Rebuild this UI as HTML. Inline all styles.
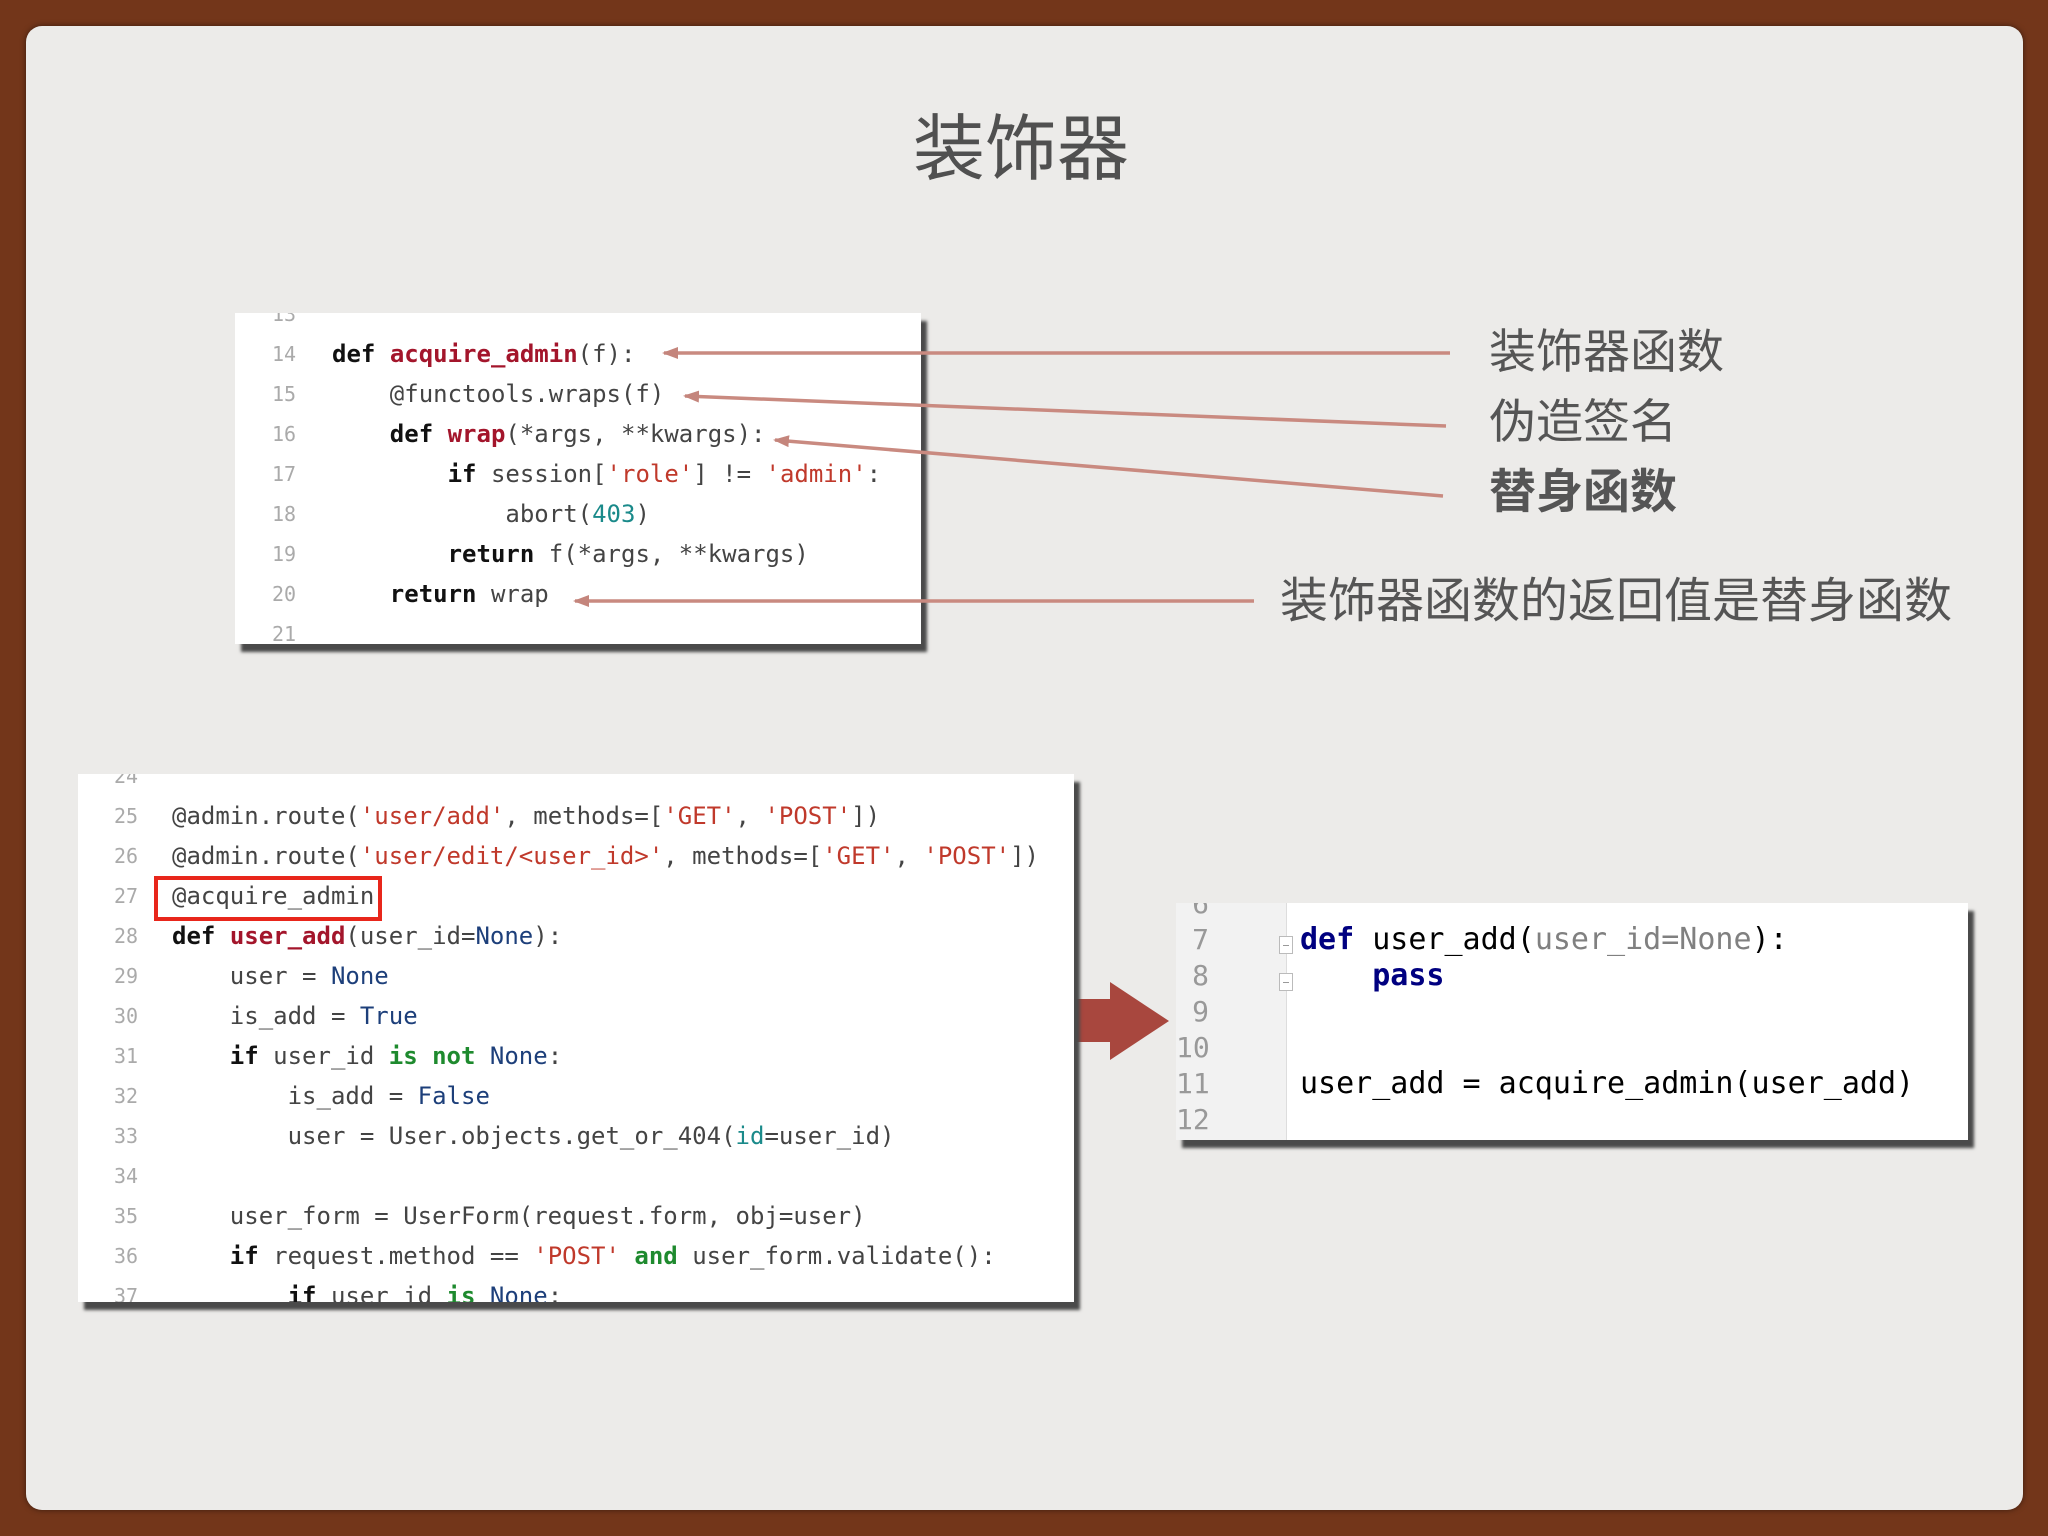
<!DOCTYPE html>
<html><head><meta charset="utf-8">
<style>
*{margin:0;padding:0;box-sizing:border-box}
html,body{width:2048px;height:1536px;overflow:hidden;background:#73361a}
.panel{position:absolute;left:26px;top:26px;width:1997px;height:1484px;background:#ecebe9;border-radius:16px;box-shadow:0 0 6px rgba(0,0,0,.5)}
.t{position:absolute;font-family:"Liberation Sans","Noto Sans CJK SC",sans-serif;color:#555;white-space:nowrap}
.box{position:absolute;background:#fff;box-shadow:6px 8px 3px #4a4a4a;overflow:hidden}
.code{position:absolute;font-family:"DejaVu Sans Mono","Liberation Mono",monospace;white-space:pre;color:#444}
.ln{position:absolute;font-family:"DejaVu Sans Mono","Liberation Mono",monospace;color:#aaa;white-space:pre}
.k{font-weight:bold;color:#111}
.f{color:#a3152b;font-weight:bold}
.s{color:#c0392b}
.n{color:#1a8a8a}
.b{color:#1d3f7a}
.g{color:#1e8a2e;font-weight:bold}
.nv{color:#000080;font-weight:bold}
.gr{color:#808080}
.fold{position:absolute;width:14px;height:18px;border:1px solid #bbb;background:#fff}
.fold:after{content:"";position:absolute;left:3px;top:8px;width:6px;height:1px;background:#999}
</style></head><body>
<div class="panel"></div>
<div class="t" style="left:913px;top:90px;font-size:72px;color:#505050">装饰器</div>

<!-- top box -->
<div class="box" style="left:235px;top:313px;width:686px;height:331px">
  <div class="ln" style="left:37px;top:-19px;font-size:20px;line-height:40px">13
14
15
16
17
18
19
20
21</div>
  <div class="code" style="left:97px;top:21px;font-size:24px;line-height:40px"><span class="k">def</span> <span class="f">acquire_admin</span>(f):
    @functools.wraps(f)
    <span class="k">def</span> <span class="f">wrap</span>(*args, **kwargs):
        <span class="k">if</span> session[<span class="s">'role'</span>] != <span class="s">'admin'</span>:
            abort(<span class="n">403</span>)
        <span class="k">return</span> f(*args, **kwargs)
    <span class="k">return</span> wrap</div>
</div>

<!-- labels -->
<div class="t" style="left:1489px;top:313px;font-size:47px">装饰器函数</div>
<div class="t" style="left:1489px;top:383px;font-size:47px">伪造签名</div>
<div class="t" style="left:1489px;top:453px;font-size:47px;font-weight:bold">替身函数</div>
<div class="t" style="left:1280px;top:561px;font-size:48px">装饰器函数的返回值是替身函数</div>

<svg style="position:absolute;left:0;top:0" width="2048" height="1536">
  <defs><marker id="a" markerWidth="16" markerHeight="12" refX="14" refY="6" orient="auto" markerUnits="userSpaceOnUse"><path d="M0,0 L16,6 L0,12 z" fill="#c4857c"/></marker></defs>
  <g stroke="#c98a80" stroke-width="3.5" fill="none">
    <line x1="1450" y1="353" x2="664" y2="353" marker-end="url(#a)"/>
    <line x1="1446" y1="426" x2="685" y2="396" marker-end="url(#a)"/>
    <line x1="1443" y1="496" x2="775" y2="440" marker-end="url(#a)"/>
    <line x1="1254" y1="601" x2="575" y2="601" marker-end="url(#a)"/>
  </g>
  <path d="M1074,999 L1110,999 L1110,982 L1169,1021 L1110,1060 L1110,1042 L1074,1042 z" fill="#a8473e"/>
</svg>

<!-- bottom box -->
<div class="box" style="left:78px;top:774px;width:996px;height:528px">
  <div class="ln" style="left:36px;top:-18px;font-size:20px;line-height:40px">24
25
26
27
28
29
30
31
32
33
34
35
36
37</div>
  <div class="code" style="left:94px;top:22px;font-size:24px;line-height:40px">@admin.route(<span class="s">'user/add'</span>, methods=[<span class="s">'GET'</span>, <span class="s">'POST'</span>])
@admin.route(<span class="s">'user/edit/&lt;user_id&gt;'</span>, methods=[<span class="s">'GET'</span>, <span class="s">'POST'</span>])
@acquire_admin
<span class="k">def</span> <span class="f">user_add</span>(user_id=<span class="b">None</span>):
    user = <span class="b">None</span>
    is_add = <span class="b">True</span>
    <span class="k">if</span> user_id <span class="g">is not</span> <span class="b">None</span>:
        is_add = <span class="b">False</span>
        user = User.objects.get_or_404(<span class="n">id</span>=user_id)

    user_form = UserForm(request.form, obj=user)
    <span class="k">if</span> request.method == <span class="s">'POST'</span> <span class="g">and</span> user_form.validate():
        <span class="k">if</span> user_id <span class="g">is</span> <span class="b">None</span>:</div>
  <div style="position:absolute;left:76px;top:102px;width:228px;height:45px;border:4px solid #e8261b"></div>
</div>

<!-- right box -->
<div class="box" style="left:1176px;top:903px;width:792px;height:237px">
  <div style="position:absolute;left:0;top:0;width:111px;height:237px;background:#f2f2f2;border-right:1px solid #ddd"></div>
  <div class="ln" style="left:0;top:-17px;width:33px;text-align:right;font-size:28px;line-height:36px;color:#999">6
7
8
9
10
11
12</div>
  <div class="fold" style="left:103px;top:33px"></div>
  <div class="fold" style="left:103px;top:70px"></div>
  <div class="code" style="left:124px;top:19px;font-size:30px;line-height:36px;color:#000"><span class="nv">def</span> user_add(<span class="gr">user_id=None</span>):
    <span class="nv">pass</span>


user_add = acquire_admin(user_add)</div>
</div>
</body></html>
